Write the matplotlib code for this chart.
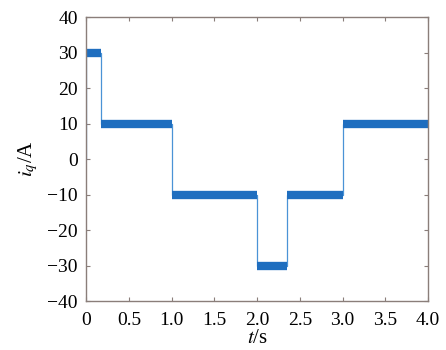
#!/usr/bin/env python3
"""Step response of q-axis current i_q over 0-4 s."""

import matplotlib
matplotlib.use("Agg")
import matplotlib.pyplot as plt
import numpy as np

# segment boundaries (s) and the current level held on each segment (A)
seg_start = [0.0, 0.17, 1.0, 2.0, 2.35, 3.0]
seg_end = [0.17, 1.0, 2.0, 2.35, 3.0, 4.0]
seg_level = [30, 10, -10, -30, -10, 10]
start_value = 0

x_ticks = [0, 0.5, 1.0, 1.5, 2.0, 2.5, 3.0, 3.5, 4.0]
x_ticklabels = ["0", "0.5", "1.0", "1.5", "2.0", "2.5", "3.0", "3.5", "4.0"]
y_ticks = [-40, -30, -20, -10, 0, 10, 20, 30, 40]

plt.rcParams["font.family"] = ["Liberation Serif", "DejaVu Serif"]
plt.rcParams["mathtext.fontset"] = "stix"

fig = plt.figure(figsize=(4.46, 3.5), dpi=100)
ax = fig.add_axes([0.193, 0.14, 0.767, 0.811])

# thin transition line
t_line = [0.0] + [v for s, e in zip(seg_start, seg_end) for v in (s, e)]
y_line = [start_value] + [v for lv in seg_level for v in (lv, lv)]
ax.plot(t_line, y_line, color="#4a93d6", lw=0.9)

# thick noisy-looking band on each flat segment
ax.hlines(seg_level, seg_start, seg_end, colors="#1f6ebf", lw=6)

ax.set_xlim(0, 4)
ax.set_ylim(-40, 40)
ax.set_xticks(x_ticks)
ax.set_xticklabels(x_ticklabels)
ax.set_yticks(y_ticks)
ax.set_yticklabels([str(v).replace("-", "\u2212") for v in y_ticks])
ax.tick_params(direction="in", length=3, labelsize=14, top=True, right=True,
               color="#8a7e7a")
ax.tick_params(axis="x", pad=8)
ax.tick_params(axis="y", pad=6)
for sp in ax.spines.values():
    sp.set_color("#8a7e7a")
    sp.set_linewidth(1.0)

ax.set_xlabel(r"$t$/s", fontsize=15, labelpad=0)
ax.set_ylabel(r"$i_q$/A", fontsize=15, labelpad=5)

fig.savefig("out.png", dpi=100)
